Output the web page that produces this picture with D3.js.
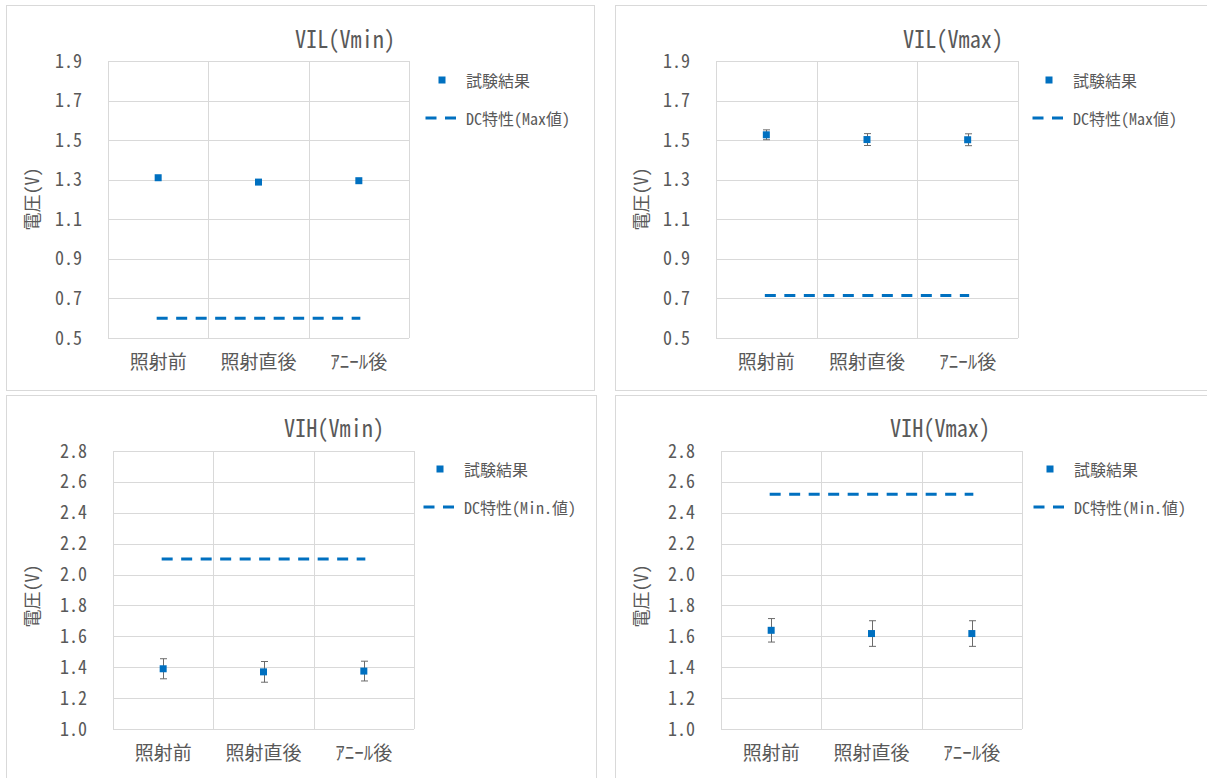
<!DOCTYPE html>
<html>
<head>
<meta charset="utf-8">
<script src="https://cdn.jsdelivr.net/npm/d3@7"></script>
<style>
  html, body { margin: 0; padding: 0; background: #fff; }
  svg { display: block; }
  text { font-family: "Noto Sans Mono CJK JP", "Noto Sans CJK JP", sans-serif; fill: #595959; }
</style>
</head>
<body>
<svg id="chart" width="1207" height="778"></svg>
<script>
// Categories shared by all four charts
const categories = ["照射前", "照射直後", "ｱﾆｰﾙ後"];

// Tick values for the two y scales
const vilTicks = [0.5, 0.7, 0.9, 1.1, 1.3, 1.5, 1.7, 1.9];
const vihTicks = [1.0, 1.2, 1.4, 1.6, 1.8, 2.0, 2.2, 2.4, 2.6, 2.8];

// VIL (Vmin)
const vilVminResult = [1.310, 1.288, 1.295];
const vilVminError  = [0, 0, 0];
const vilVminSpec   = [0.60, 0.60, 0.60];

// VIL (Vmax)
const vilVmaxResult = [1.527, 1.503, 1.502];
const vilVmaxError  = [0.025, 0.030, 0.030];
const vilVmaxSpec   = [0.715, 0.715, 0.715];

// VIH (Vmin)
const vihVminResult = [1.390, 1.370, 1.375];
const vihVminError  = [0.065, 0.067, 0.064];
const vihVminSpec   = [2.10, 2.10, 2.10];

// VIH (Vmax)
const vihVmaxResult = [1.639, 1.618, 1.618];
const vihVmaxError  = [0.076, 0.083, 0.083];
const vihVmaxSpec   = [2.52, 2.52, 2.52];

// Titles and legend labels
const titles = ["VIL(Vmin)", "VIL(Vmax)", "VIH(Vmin)", "VIH(Vmax)"];
const resultLabel = "試験結果";
const specLabels = ["DC特性(Max値)", "DC特性(Max値)", "DC特性(Min.値)", "DC特性(Min.値)"];
const yTitle = "電圧(V)";

const panels = [
  { title: titles[0], ticks: vilTicks, result: vilVminResult, err: vilVminError, spec: vilVminSpec, specLabel: specLabels[0],
    box: [6, 5, 588, 385], plot: [108, 409, 61, 338], titleX: 345, titleY: 37, legX: 442, legY: 80, yTitleY: 199 },
  { title: titles[1], ticks: vilTicks, result: vilVmaxResult, err: vilVmaxError, spec: vilVmaxSpec, specLabel: specLabels[1],
    box: [615, 5, 620, 385], plot: [716, 1018, 61, 338], titleX: 953, titleY: 37, legX: 1049, legY: 80, yTitleY: 199 },
  { title: titles[2], ticks: vihTicks, result: vihVminResult, err: vihVminError, spec: vihVminSpec, specLabel: specLabels[2],
    box: [6, 395, 590, 400], plot: [113, 414, 451, 729], titleX: 334, titleY: 426, legX: 440, legY: 469, yTitleY: 596 },
  { title: titles[3], ticks: vihTicks, result: vihVmaxResult, err: vihVmaxError, spec: vihVmaxSpec, specLabel: specLabels[3],
    box: [615, 395, 620, 400], plot: [721, 1022, 451, 729], titleX: 940, titleY: 426, legX: 1050, legY: 469, yTitleY: 596 }
];

const svg = d3.select("#chart");
const blue = "#0070C0";
const gridColor = "#d9d9d9";
const fontStack = '"Noto Sans Mono CJK JP", "Noto Sans CJK JP", sans-serif';

panels.forEach(p => {
  const g = svg.append("g");
  const [bx, by, bw, bh] = p.box;
  g.append("rect").attr("x", bx + 0.5).attr("y", by + 0.5).attr("width", bw).attr("height", bh)
    .attr("fill", "#fff").attr("stroke", gridColor).attr("stroke-width", 1);

  const [x0, x1, y0, y1] = p.plot;
  const x = d3.scaleBand().domain(categories).range([x0, x1]).paddingInner(0).paddingOuter(0);
  const y = d3.scaleLinear().domain([p.ticks[0], p.ticks[p.ticks.length - 1]]).range([y1, y0]);

  // horizontal gridlines
  g.append("g").selectAll("line").data(p.ticks).join("line")
    .attr("x1", x0).attr("x2", x1)
    .attr("y1", d => Math.round(y(d)) + 0.5).attr("y2", d => Math.round(y(d)) + 0.5)
    .attr("stroke", gridColor).attr("stroke-width", 1);

  // vertical gridlines at category boundaries
  const bounds = categories.map(c => x(c)).concat([x1]);
  g.append("g").selectAll("line").data(bounds).join("line")
    .attr("x1", d => Math.round(d) + 0.5).attr("x2", d => Math.round(d) + 0.5)
    .attr("y1", y0).attr("y2", y1)
    .attr("stroke", gridColor).attr("stroke-width", 1);

  // y axis labels
  const yAxis = d3.axisLeft(y).tickValues(p.ticks).tickFormat(d3.format(".1f")).tickSize(0).tickPadding(26);
  const ya = g.append("g").attr("transform", `translate(${x0},0)`).call(yAxis);
  ya.select(".domain").remove();
  ya.selectAll("text").attr("font-size", 19).attr("fill", "#595959")
    .attr("textLength", 27).attr("lengthAdjust", "spacingAndGlyphs")
    .style("font-family", fontStack);

  // x axis labels
  const xAxis = d3.axisBottom(x).tickSize(0).tickPadding(18);
  const xa = g.append("g").attr("transform", `translate(0,${y1})`).call(xAxis);
  xa.select(".domain").remove();
  xa.selectAll("text").attr("font-size", 19).attr("fill", "#595959")
    .style("font-family", fontStack);

  // titles
  g.append("text").attr("x", p.titleX).attr("y", p.titleY).attr("text-anchor", "middle")
    .attr("dominant-baseline", "central").attr("font-size", 24)
    .attr("textLength", 100).attr("lengthAdjust", "spacingAndGlyphs").text(p.title);
  g.append("text").attr("transform", `translate(${bx + 25},${p.yTitleY}) rotate(-90)`)
    .attr("text-anchor", "middle").attr("dominant-baseline", "central").attr("font-size", 18).text(yTitle);

  const cx = c => x(c) + x.bandwidth() / 2;

  // spec line (dashed)
  const line = d3.line().x((d, i) => cx(categories[i])).y(d => y(d));
  g.append("path").datum(p.spec).attr("d", line)
    .attr("fill", "none").attr("stroke", blue).attr("stroke-width", 3)
    .attr("stroke-linecap", "square").attr("stroke-dasharray", "8 11.5");

  // error bars
  const eb = g.append("g").attr("stroke", "#6b6b6b").attr("stroke-width", 1);
  p.result.forEach((v, i) => {
    const e = p.err[i];
    if (!e) return;
    const xc = Math.round(cx(categories[i])) + 0.5;
    eb.append("line").attr("x1", xc).attr("x2", xc).attr("y1", y(v + e)).attr("y2", y(v - e));
    [v + e, v - e].forEach(t => {
      eb.append("line").attr("x1", xc - 3.5).attr("x2", xc + 3.5).attr("y1", y(t)).attr("y2", y(t));
    });
  });

  // result markers
  g.append("g").selectAll("rect").data(p.result).join("rect")
    .attr("x", (d, i) => cx(categories[i]) - 3.5).attr("y", d => y(d) - 3.5)
    .attr("width", 7).attr("height", 7).attr("fill", blue);

  // legend
  g.append("rect").attr("x", p.legX - 3.5).attr("y", p.legY - 3.5).attr("width", 7).attr("height", 7).attr("fill", blue);
  g.append("text").attr("x", p.legX + 24).attr("y", p.legY).attr("dominant-baseline", "central")
    .attr("font-size", 16).text(resultLabel);
  const ly = p.legY + 38;
  g.append("line").attr("x1", p.legX - 15).attr("x2", p.legX + 14).attr("y1", ly).attr("y2", ly)
    .attr("stroke", blue).attr("stroke-width", 3).attr("stroke-linecap", "square").attr("stroke-dasharray", "8 11.5");
  g.append("text").attr("x", p.legX + 24).attr("y", ly).attr("dominant-baseline", "central")
    .attr("font-size", 16).text(p.specLabel);
});
</script>
</body>
</html>
